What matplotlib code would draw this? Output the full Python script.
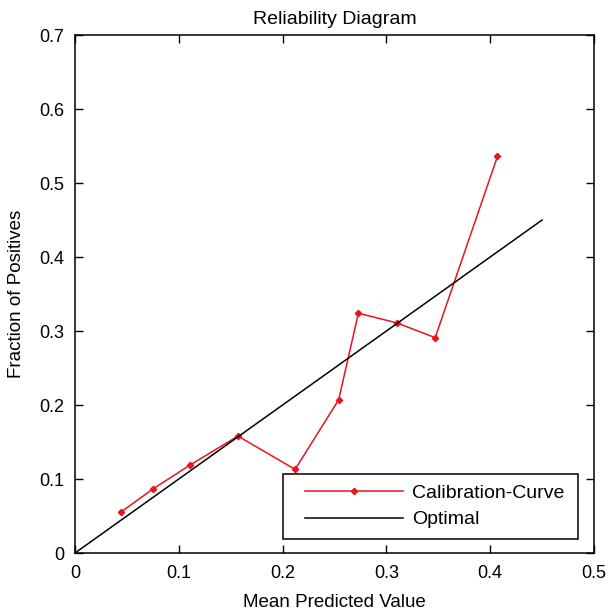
import matplotlib
matplotlib.use("Agg")
import matplotlib.pyplot as plt
from matplotlib.legend_handler import HandlerLine2D

plt.rcParams['font.family'] = ['Liberation Sans', 'DejaVu Sans']

mean_pred = [0.044, 0.0755, 0.111, 0.157, 0.212, 0.254, 0.273, 0.310, 0.347, 0.407]
frac_pos = [0.055, 0.087, 0.119, 0.158, 0.113, 0.207, 0.324, 0.311, 0.291, 0.536]
optimal_x = [0.0, 0.45]
optimal_y = [0.0, 0.45]
xticks = [0, 0.1, 0.2, 0.3, 0.4, 0.5]
yticks = [0, 0.1, 0.2, 0.3, 0.4, 0.5, 0.6, 0.7]
xticklabels = ['0', '0.1', '0.2', '0.3', '0.4', '0.5']
yticklabels = ['0', '0.1', '0.2', '0.3', '0.4', '0.5', '0.6', '0.7']


class ShortLine(HandlerLine2D):
    def create_artists(self, legend, orig_handle, xdescent, ydescent, width,
                       height, fontsize, trans):
        off = 8
        return super().create_artists(legend, orig_handle, xdescent - off,
                                      ydescent, width - off, height, fontsize, trans)


fig = plt.figure(figsize=(6.11, 6.16), dpi=100)
ax = fig.add_axes([75/611, 1 - 553/616, 519/611, 518/616])

l1, = ax.plot(mean_pred, frac_pos, color='#e8141e', lw=1.1, marker='D', markersize=3.2,
              label='Calibration-Curve')
l2, = ax.plot(optimal_x, optimal_y, color='black', lw=1.1, label='Optimal')

ax.set_xlim(0, 0.5)
ax.set_ylim(0, 0.7)
ax.set_xticks(xticks)
ax.set_yticks(yticks)
ax.set_xticklabels(xticklabels)
ax.set_yticklabels(yticklabels)
ax.tick_params(direction='in', length=6, width=1, top=True, right=True, labelsize=13)
ax.tick_params(axis='y', pad=8)
ax.tick_params(axis='x', pad=9)
for s in ax.spines.values():
    s.set_linewidth(1.1)

ax.set_title('Reliability Diagram', fontsize=14, pad=8)
ax.set_xlabel('Mean Predicted Value', fontsize=13.5, labelpad=8)
ax.set_ylabel('Fraction of Positives', fontsize=13.5, labelpad=10)

leg = ax.legend(loc='lower left', bbox_to_anchor=(0.401, 0.027, 0.568, 0.131),
                mode='expand', borderaxespad=0, fancybox=False, edgecolor='black',
                framealpha=1, fontsize=14, handlelength=5.6, handletextpad=0.5,
                borderpad=0.55, labelspacing=0.45,
                handler_map={l1: ShortLine(), l2: ShortLine()})
leg.get_frame().set_linewidth(1.1)

fig.savefig('out.png', dpi=100)
